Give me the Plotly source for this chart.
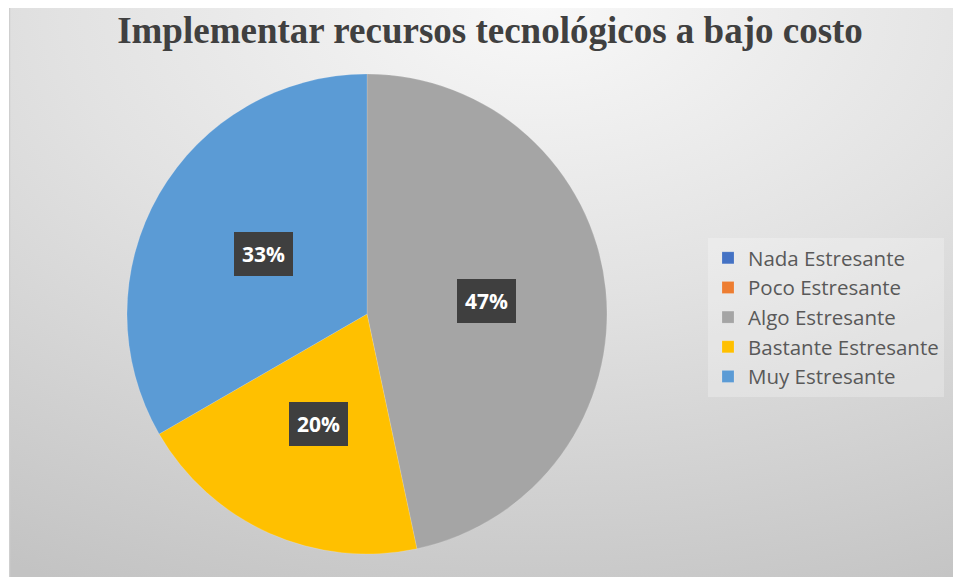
"""Pie chart: Implementar recursos tecnológicos a bajo costo."""

import base64
import math

import plotly.graph_objects as go

categories = ["Nada Estresante", "Poco Estresante", "Algo Estresante",
              "Bastante Estresante", "Muy Estresante"]
counts = [0, 0, 7, 3, 5]
colors = ["#4472C4", "#ED7D31", "#A5A5A5", "#FFC000", "#5B9BD5"]
title = "Implementar recursos tecnológicos a bajo costo"

W, H = 961, 577
# the page puts the figure 8px in from the top-left corner
# pie centre and radius in figure pixels
CX, CY, R = 359, 306, 240

# radial grey background, like the office chart area
svg = (
    '<svg xmlns="http://www.w3.org/2000/svg" width="960" height="580" '
    'preserveAspectRatio="none">'
    '<defs><radialGradient id="g" cx="55%" cy="0%" r="110%" fx="55%" fy="0%">'
    '<stop offset="0" stop-color="#f8f8f8"/>'
    '<stop offset="0.45" stop-color="#e2e2e2"/>'
    '<stop offset="1" stop-color="#c3c3c3"/>'
    '</radialGradient></defs>'
    '<rect width="960" height="580" fill="url(#g)"/>'
    '<rect x="0.5" y="0.5" width="970" height="590" fill="none" stroke="#cfcfcf" stroke-width="1.5"/>'
    '</svg>'
)
bg_src = "data:image/svg+xml;base64," + base64.b64encode(svg.encode()).decode()

fig = go.Figure()
fig.add_trace(go.Pie(
    labels=categories, values=counts, sort=False, direction="clockwise",
    rotation=0, textinfo="none", hoverinfo="label+percent",
    marker=dict(colors=colors, line=dict(color="rgba(255,255,255,0.3)", width=0.5)),
    domain=dict(x=[(CX - R) / W, (CX + R) / W],
                y=[(H - CY - R) / H, (H - CY + R) / H]),
))

# percentage labels in dark boxes, placed at half radius on each slice
total = sum(counts)
start = 0.0
for name, v in zip(categories, counts):
    if v > 0:
        mid = (start + v / 2) / total * 2 * math.pi
        x = (CX + 0.5 * R * math.sin(mid)) / W
        y = (H - CY + 0.5 * R * math.cos(mid)) / H
        fig.add_annotation(
            x=x, y=y, xref="paper", yref="paper", showarrow=False,
            xanchor="center", yanchor="middle",
            text=f"<b>{round(100 * v / total)}%</b>",
            font=dict(family="Open Sans, Liberation Sans, sans-serif", size=21, color="white"),
            bgcolor="#3f3f3f", borderpad=8, borderwidth=0,
        )
    start += v

fig.add_layout_image(
    source=bg_src, xref="paper", yref="paper", x=1 / W, y=1 + 3 / H,
    sizex=1.0, sizey=1.0 + 10 / H, sizing="stretch", layer="below",
    xanchor="left", yanchor="top",
)

fig.update_layout(
    width=W, height=H, margin=dict(l=0, r=0, t=0, b=0),
    paper_bgcolor="white", plot_bgcolor="rgba(0,0,0,0)",
    title=dict(text=f"<b>{title}</b>", x=482 / W, xanchor="center",
               y=1 - 22 / H, yanchor="middle",
               font=dict(family="Liberation Serif, Times New Roman, serif",
                         size=37, color="#404040")),
    legend=dict(x=700 / W, y=1 - 230 / H, xanchor="left", yanchor="top",
                bgcolor="rgba(255,255,255,0.25)", tracegroupgap=0,
                font=dict(family="Open Sans, Liberation Sans, sans-serif",
                          size=20.5, color="#595959"),
                itemwidth=30),
    showlegend=True,
)

fig.write_html("out.html")
